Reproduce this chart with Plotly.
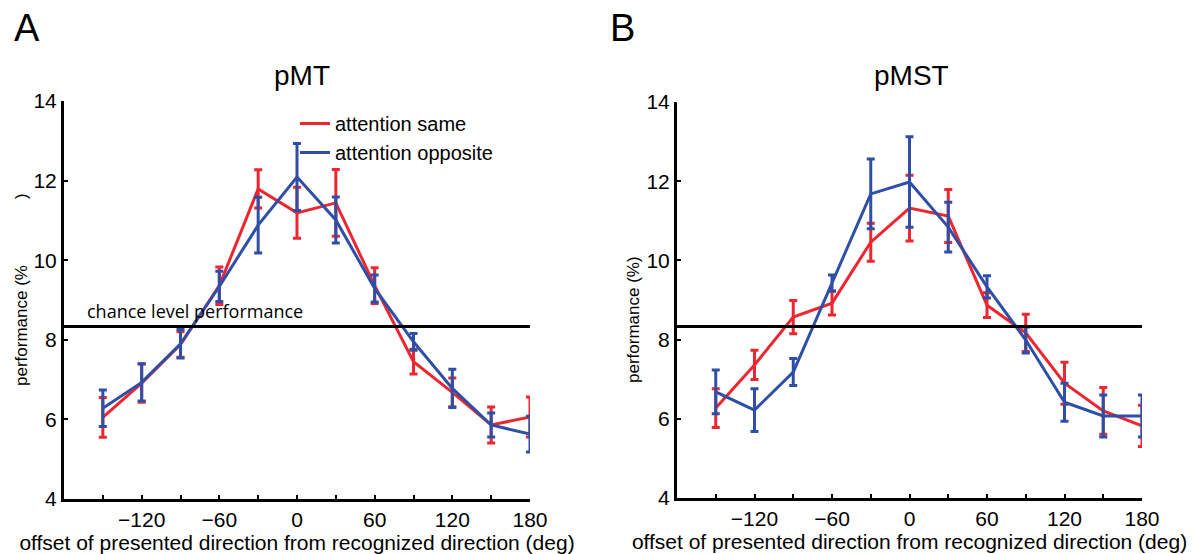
import plotly.graph_objects as go
from plotly.subplots import make_subplots

# offsets of presented direction (deg)
offsets = [-150, -120, -90, -60, -30, 0, 30, 60, 90, 120, 150, 180]

# pMT performance (%) and standard errors
pmt_same = [6.05, 6.91, 7.88, 9.36, 11.79, 11.19, 11.44, 9.36, 7.45, 6.68, 5.86, 6.06]
pmt_same_err = [0.50, 0.48, 0.32, 0.47, 0.48, 0.64, 0.84, 0.45, 0.31, 0.36, 0.45, 0.50]
pmt_opp = [6.28, 6.93, 7.90, 9.34, 10.88, 12.09, 11.01, 9.29, 7.95, 6.78, 5.86, 5.63]
pmt_opp_err = [0.46, 0.47, 0.36, 0.38, 0.70, 0.84, 0.58, 0.34, 0.21, 0.48, 0.30, 0.45]

# pMST performance (%) and standard errors
pmst_same = [6.27, 7.36, 8.57, 8.92, 10.46, 11.32, 11.12, 8.87, 8.17, 6.90, 6.20, 5.82]
pmst_same_err = [0.49, 0.37, 0.42, 0.30, 0.48, 0.83, 0.67, 0.31, 0.47, 0.53, 0.59, 0.52]
pmst_opp = [6.68, 6.22, 7.18, 9.43, 11.68, 11.98, 10.84, 9.33, 7.99, 6.42, 6.07, 6.07]
pmst_opp_err = [0.55, 0.54, 0.34, 0.20, 0.88, 1.14, 0.63, 0.28, 0.33, 0.48, 0.53, 0.53]

chance_level = 100 / 12

x_tickvals = [-180, -150, -120, -90, -60, -30, 0, 30, 60, 90, 120, 150, 180]
x_ticktext = ["", "", "\u2212120", "", "\u221260", "", "0", "", "60", "", "120", "", "180"]
y_tickvals = [4, 6, 8, 10, 12, 14]

RED = "#ED2630"
BLUE = "#2F4FA6"
FONT = "Liberation Sans"
W, H = 1194, 554

fig = make_subplots(rows=1, cols=2)

panels = [
    (1, pmt_same, pmt_same_err, pmt_opp, pmt_opp_err, True),
    (2, pmst_same, pmst_same_err, pmst_opp, pmst_opp_err, False),
]
for col, same, same_err, opp, opp_err, show in panels:
    fig.add_trace(go.Scatter(
        x=offsets, y=same, mode="lines", name="attention same",
        line=dict(color=RED, width=3),
        error_y=dict(type="data", array=same_err, color=RED, thickness=3, width=4),
        showlegend=show), row=1, col=col)
    fig.add_trace(go.Scatter(
        x=offsets, y=opp, mode="lines", name="attention opposite",
        line=dict(color=BLUE, width=3),
        error_y=dict(type="data", array=opp_err, color=BLUE, thickness=3, width=4),
        showlegend=show), row=1, col=col)
    suffix = str(col) if col > 1 else ""
    fig.add_shape(type="line", xref=f"x{suffix} domain", yref=f"y{suffix}",
                  x0=0, x1=1, y0=chance_level, y1=chance_level,
                  line=dict(color="black", width=3))

axis_common = dict(showline=True, linecolor="black", linewidth=3, ticks="inside",
                   ticklen=4, tickwidth=2, tickcolor="black", showgrid=False,
                   zeroline=False, automargin=False,
                   tickfont=dict(family=FONT, size=21, color="black"))

fig.update_xaxes(range=[-180, 180], tickvals=x_tickvals, ticktext=x_ticktext,
                 title=dict(text="offset of presented direction from recognized direction (deg)",
                            font=dict(family=FONT, size=21, color="black"), standoff=2),
                 **axis_common)
fig.update_yaxes(range=[4, 14], tickvals=y_tickvals, **axis_common)


def paper_x(px):
    return px / W


def paper_y(px):
    return (H - px) / H


def label(text, x, y, size, family=FONT, angle=0, xanchor="center"):
    return dict(text=text, x=paper_x(x), y=paper_y(y), xref="paper", yref="paper",
                xanchor=xanchor, yanchor="middle", textangle=angle, showarrow=False,
                font=dict(family=family, size=size, color="black"))


fig.update_layout(
    width=W, height=H,
    margin=dict(l=0, r=0, t=0, b=0),
    paper_bgcolor="white", plot_bgcolor="white",
    xaxis=dict(domain=[64 / W, 530 / W]),
    xaxis2=dict(domain=[677 / W, 1142 / W]),
    yaxis=dict(domain=[55 / H, 453 / H]),
    yaxis2=dict(domain=[56 / H, 452 / H]),
    legend=dict(x=paper_x(295), y=paper_y(104), xanchor="left", yanchor="top",
                bgcolor="rgba(0,0,0,0)", font=dict(family=FONT, size=20, color="black")),
    annotations=[
        label("A", 27, 28, 38),
        label("B", 622, 28, 38),
        label("pMT", 302, 75, 28),
        label("pMST", 911, 75, 28),
        label("performance (%" + "\u00a0" * 14 + ")", 21, 290, 17, angle=-90),
        label("performance (%)", 633, 320, 17, angle=-90),
        dict(text="chance level performance", x=-164, y=8.73, xref="x", yref="y",
             xanchor="left", yanchor="middle", showarrow=False,
             font=dict(family="Open Sans", size=18, color="black")),
    ],
)

fig.write_html("out.html")
